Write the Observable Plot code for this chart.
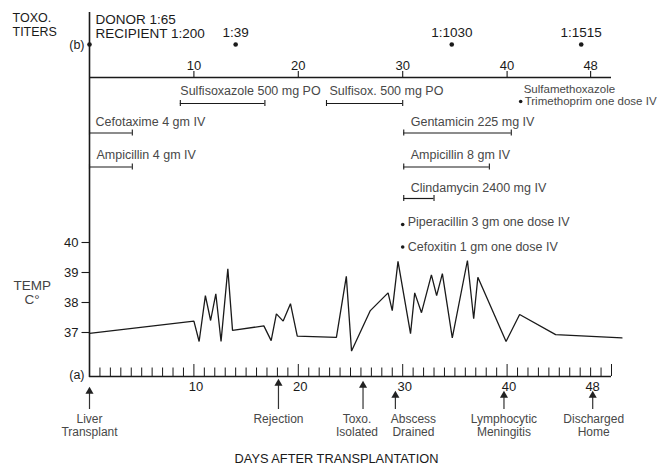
<!DOCTYPE html>
<html><head><meta charset="utf-8">
<script src="https://cdn.jsdelivr.net/npm/d3@7"></script>
<script src="https://cdn.jsdelivr.net/npm/@observablehq/plot@0.6"></script>
<style>body{margin:0;background:#fff;}</style>
</head><body><div id="chart"></div>
<script>
// ---------- DATA ----------
const tempDays = [0,10,10.5,11.1,11.6,12.1,12.6,13.25,13.7,16.7,17.4,17.9,18.55,19.25,19.9,23.65,24.6,25.1,26.9,28.6,29,29.55,30.75,31.15,31.8,32.75,33.25,33.8,34.75,36.2,36.8,37.2,39.9,41.2,44.65,51];
const tempValues = [36.97,37.38,36.7,38.23,37.4,38.29,36.7,39.12,37.07,37.22,36.73,37.62,37.38,37.96,36.88,36.84,38.87,36.38,37.73,38.32,37.73,39.37,36.96,38.32,37.66,38.92,38.23,38.96,36.82,39.4,37.46,38.84,36.7,37.6,36.93,36.82];
const tempTicks = [37, 38, 39, 40];
const dayLabels = [10, 20, 30, 40, 48];
const dayMinorTicks = d3.range(1, 51);

const titerDays = [0, 14, 34.7, 47.1];
const titerLabels = ["", "1:39", "1:1030", "1:1515"];
const baselineTiters = ["DONOR 1:65", "RECIPIENT 1:200"];

const drugNames = ["Sulfisoxazole 500 mg PO", "Sulfisox. 500 mg PO", "Cefotaxime 4 gm IV", "Ampicillin 4 gm IV", "Gentamicin 225 mg IV", "Ampicillin 8 gm IV", "Clindamycin 2400 mg IV"];
const drugStart = [8.7, 22.7, 0, 0, 30.1, 30.1, 30.1];
const drugEnd = [16.8, 30.0, 4.1, 4.1, 40.4, 38.3, 33.0];
const drugLane = [0, 0, 1, 2, 1, 2, 3];

const doseNames = ["Piperacillin 3 gm one dose IV", "Cefoxitin 1 gm one dose IV", "Trimethoprim one dose IV"];
const doseDays = [30, 30, 41.3];
const doseLane = [4, 5, 6];

const eventDays = [0, 18.1, 26.2, 29.3, 39.7, 48.2];
const eventLabels = [["Liver", "Transplant"], ["Rejection"], ["Toxo.", "Isolated"], ["Abscess", "Drained"], ["Lymphocytic", "Meningitis"], ["Discharged", "Home"]];

// ---------- LAYOUT ----------
const PXDAY = 10.44;
const X = px => (px - 89) / PXDAY;      // pixel column -> day units (layout only)
const Y = px => 37 + (332 - px) / 30;   // pixel row -> y-scale units (layout only)
const laneBar = [103, 132.5, 166.5, 198];
const laneLabel = [90, 121, 154, 187];
const drugLabelDx = [0, 3, 6, 7, 7, 7, 7];
const doseDot = {4: 224, 5: 246.5, 6: 101};
const doseText = {4: 221, 5: 246, 6: 101};
const eventTip = [388, 380, 382, 392, 392, 392];
const eventLabelDx = [0, 0, -6, 18, 0, 1];

const temps = tempDays.map((d, i) => ({day: d, temp: tempValues[i]}));
const drugs = drugNames.map((n, i) => ({name: n, start: drugStart[i], end: drugEnd[i], lane: drugLane[i], dx: drugLabelDx[i]}));
const doses = doseNames.map((n, i) => ({name: n, day: doseDays[i], lane: doseLane[i]}));
const titers = titerDays.map((d, i) => ({day: d, label: titerLabels[i]}));
const events = eventDays.map((d, i) => ({day: d, lines: eventLabels[i], tip: eventTip[i], dx: eventLabelDx[i]}));
const eventLines = events.flatMap(e => e.lines.map((t, j) => ({day: e.day, text: t, row: j, dx: e.dx})));

const ink = "#1a1a1a", gray = "#484848";
const FONT = "Liberation Sans, Arial, Helvetica, sans-serif";

const chart = Plot.plot({
  width: 669, height: 467,
  marginTop: 0, marginRight: 0, marginBottom: 0, marginLeft: 0,
  x: {domain: [0, 50], range: [89, 89 + 50 * PXDAY], axis: null},
  y: {domain: [37, 40], range: [332, 242], axis: null},
  style: {fontFamily: FONT, fontSize: "12px", background: "#fff", color: ink},
  marks: [
    // left vertical axis
    Plot.ruleX([0], {y1: Y(12), y2: Y(377), stroke: ink, strokeWidth: 1.6}),
    // top axis
    Plot.ruleY([0], {y: Y(77), x1: 0, x2: 50, stroke: ink, strokeWidth: 1.3}),
    Plot.ruleX(dayLabels, {y1: Y(77), y2: Y(71), stroke: ink, strokeWidth: 1.1}),
    Plot.text(dayLabels, {x: d => d, y: Y(65), text: d => String(d), fill: ink, fontSize: 13}),
    // bottom axis
    Plot.ruleY([0], {y: Y(376), x1: 0, x2: 50, stroke: ink, strokeWidth: 1.4}),
    Plot.ruleX(dayMinorTicks, {y1: Y(376), y2: d => Y(d % 10 === 0 ? 364 : 367.5), stroke: ink, strokeWidth: 1}),
    Plot.text(dayLabels, {x: d => d + X(91), y: Y(386), text: d => String(d), fill: ink, fontSize: 13}),
    // temperature axis
    Plot.ruleY(tempTicks, {y: d => d, x1: X(81.5), x2: 0, stroke: ink, strokeWidth: 1.1}),
    Plot.text(tempTicks, {y: d => d, x: X(78), text: d => String(d), textAnchor: "end", fill: ink, fontSize: 13}),
    // temperature line
    Plot.line(temps, {x: "day", y: "temp", stroke: ink, strokeWidth: 1.3, strokeLinejoin: "miter"}),
    // titers
    Plot.dot(titers, {x: "day", y: Y(44), r: 2.3, fill: ink}),
    Plot.text(titers, {x: "day", y: Y(32.5), text: "label", fill: ink, fontSize: 13.5}),
    Plot.text(baselineTiters, {x: X(95), y: (d, i) => Y(19 + i * 14), text: d => d, textAnchor: "start", fill: ink, fontSize: 13.5}),
    // drug courses
    Plot.ruleY(drugs, {y: d => Y(laneBar[d.lane]), x1: "start", x2: "end", stroke: ink, strokeWidth: 1.2}),
    Plot.ruleX(drugs, {x: "start", y1: d => Y(laneBar[d.lane] - 3), y2: d => Y(laneBar[d.lane] + 3), stroke: ink, strokeWidth: 1.1}),
    Plot.ruleX(drugs, {x: "end", y1: d => Y(laneBar[d.lane] - 3), y2: d => Y(laneBar[d.lane] + 3), stroke: ink, strokeWidth: 1.1}),
    Plot.text(drugs, {x: d => d.start + d.dx / PXDAY, y: d => Y(laneLabel[d.lane]), text: "name", textAnchor: "start", fill: gray, fontSize: 12.5}),
    // single doses
    Plot.dot(doses, {x: "day", y: d => Y(doseDot[d.lane]), r: 1.8, fill: ink}),
    Plot.text(doses.filter(d => d.lane !== 6), {x: d => d.day + 5 / PXDAY, y: d => Y(doseText[d.lane]), text: "name", textAnchor: "start", fill: gray, fontSize: 12.5}),
    Plot.text(doses.filter(d => d.lane === 6), {x: d => d.day + 4 / PXDAY, y: d => Y(doseText[d.lane]), text: "name", textAnchor: "start", fill: gray, fontSize: 11.5}),
    Plot.text(["Sulfamethoxazole"], {x: doseDays[2] + 3 / PXDAY, y: Y(88.5), text: d => d, textAnchor: "start", fill: gray, fontSize: 11.5}),
    // events
    Plot.ruleX(events, {x: "day", y1: d => Y(d.tip + 3), y2: Y(409), stroke: "#333", strokeWidth: 1.2}),
    Plot.dot(events, {x: "day", y: d => Y(d.tip + 3), symbol: "triangle", r: 3, fill: "#222"}),
    Plot.text(eventLines, {x: d => d.day + d.dx / PXDAY, y: d => Y(419 + d.row * 12.5), text: "text", fill: gray, fontSize: 12}),
    // outer labels
    Plot.text(["TOXO.", "TITERS"], {x: X(12), y: (d, i) => Y(17 + i * 14), text: d => d, textAnchor: "start", fill: ink, fontSize: 12.5}),
    Plot.text(["(b)"], {x: X(84), y: Y(44), text: d => d, textAnchor: "end", fill: ink, fontSize: 12.5}),
    Plot.text(["(a)"], {x: X(84), y: Y(374), text: d => d, textAnchor: "end", fill: ink, fontSize: 12.5}),
    Plot.text(["TEMP", "C°"], {x: (d, i) => X(i ? 24 : 13), y: (d, i) => Y(285 + i * 14), text: d => d, textAnchor: "start", fill: "#444", fontSize: 13.5}),
    Plot.text(["DAYS AFTER TRANSPLANTATION"], {x: X(336), y: Y(458), text: d => d, fill: ink, fontSize: 12.8})
  ]
});
document.getElementById("chart").appendChild(chart);
</script>
</body></html>
